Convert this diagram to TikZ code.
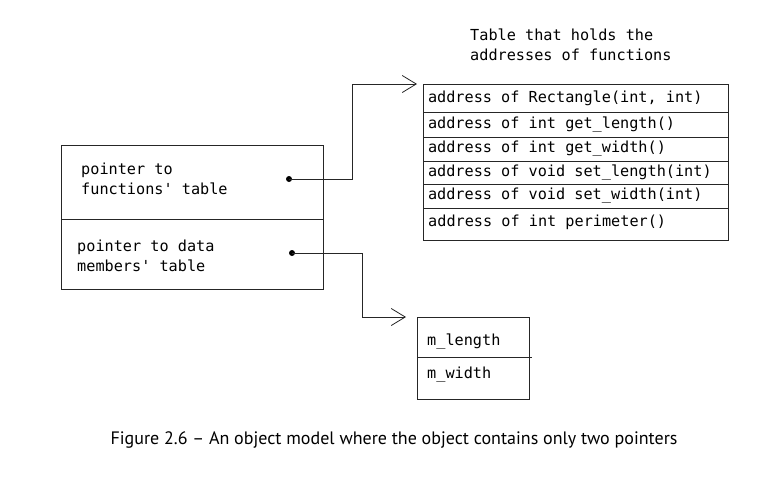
\documentclass[tikz,border=0pt]{standalone}
\usepackage{fontspec}
\setmonofont{DejaVu Sans Mono}
\newfontfamily\capfont{PT Sans}
\usetikzlibrary{arrows.meta}
\begin{document}
\begin{tikzpicture}[x=1pt,y=-1pt,
  every node/.style={font=\fontsize{15.2}{20}\ttfamily},
  cell/.style={draw=black!85, line width=1pt, anchor=north west, align=left, inner sep=0pt, outer sep=0pt,
    execute at begin node={\spaceskip=0pt\xspaceskip=0pt\relax}},
  txt/.style={anchor=west, align=left, inner sep=0pt},
  arr/.style={draw=black!85, line width=0.9pt, -{Straight Barb[length=14pt,width=17pt,line width=0.8pt]}},
  dot/.style={circle, fill=black, inner sep=0pt, minimum size=6pt}]
\useasboundingbox[fill=white] (0,0) rectangle (767,491);
% title
\node[txt] (title) at (470,45) {Table that holds the\\addresses of functions};
% object box
\node[cell, minimum width=262pt, minimum height=74pt] (o1) at (61,145) {};
\node[cell, minimum width=262pt, minimum height=70pt] (o2) at (61,219) {};
\node[txt] (o1t) at ([xshift=20pt,yshift=3pt]o1.west) {pointer to\\functions' table};
\node[txt] (o2t) at ([xshift=16pt,yshift=-2pt]o2.west) {pointer to data\\members' table};
\node[dot] (d1) at (289,179) {};
\node[dot] (d2) at (292,253) {};
% function table
\node[cell, minimum width=305pt, minimum height=28pt, text width=295pt] (f1) at (423,84) {address of Rectangle(int, int)};
\node[cell, minimum width=305pt, minimum height=25pt, text width=295pt] (f2) at (423,112) {address of int get\_length()};
\node[cell, minimum width=305pt, minimum height=24pt, text width=295pt] (f3) at (423,137) {address of int get\_width()};
\node[cell, minimum width=305pt, minimum height=23pt, text width=295pt] (f4) at (423,161) {address of void set\_length(int)};
\node[cell, minimum width=305pt, minimum height=24pt, text width=295pt] (f5) at (423,184) {address of void set\_width(int)};
\node[cell, minimum width=305pt, minimum height=32pt] (f6) at (423,208) {};
\node[txt] (f6t) at ([xshift=5pt,yshift=2pt]f6.west) {address of int perimeter()};
% data table
\node[cell, minimum width=112pt, minimum height=40pt] (m1) at (417,317) {};
\node[cell, minimum width=112pt, minimum height=42pt] (m2) at (417,357) {};
\node[txt] (m1t) at ([xshift=10pt,yshift=-4pt]m1.west) {m\_length};
\node[txt] (m2t) at ([xshift=10pt,yshift=3pt]m2.west) {m\_width};
\draw[draw=black!85, line width=1pt] (m2.north east) -- ++(3,0);
% connectors
\draw[arr] (d1.center) -- ++(63,0) |- ([xshift=-6pt]f1.north west);
\draw[arr] (d2.center) -- ++(70,0) |- ([xshift=-11pt]m1.north west);
% caption
\node[font=\capfont\fontsize{18}{22}\selectfont] (cap) at (394,440) {Figure 2.6 – An object model where the object contains only two pointers};
\end{tikzpicture}
\end{document}
